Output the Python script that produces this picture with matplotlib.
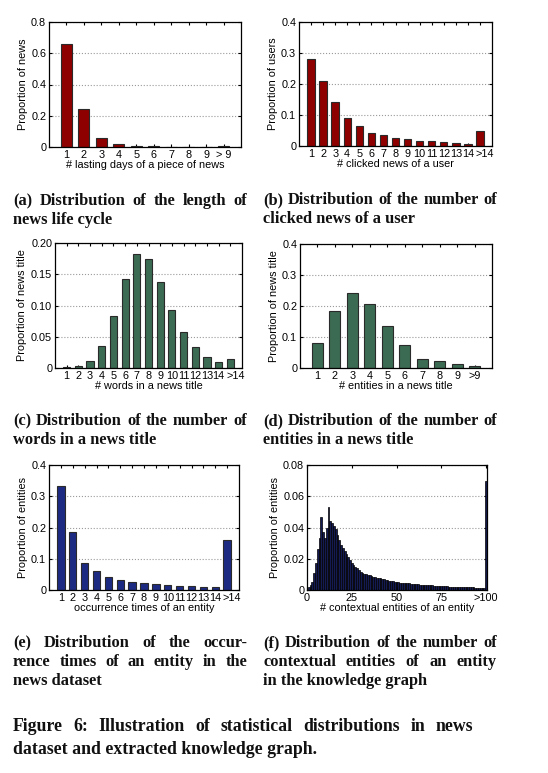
import numpy as np
import matplotlib
matplotlib.use('Agg')
import matplotlib.pyplot as plt
import matplotlib.transforms as mtransforms

W, H, DPI = 548, 773, 100

# (a) lasting days of a piece of news
days_labels = ['1', '2', '3', '4', '5', '6', '7', '8', '9', '> 9']
days_share = [0.658, 0.244, 0.060, 0.019, 0.009, 0.006, 0.003, 0.001, 0.001, 0.008]

# (b) clicked news of a user
click_labels = ['1', '2', '3', '4', '5', '6', '7', '8', '9', '10', '11', '12', '13', '14', '>14']
click_share = [0.281, 0.210, 0.141, 0.091, 0.063, 0.043, 0.034, 0.025, 0.021,
               0.017, 0.015, 0.014, 0.009, 0.008, 0.048]

# (c) words in a news title
word_labels = click_labels
word_share = [0.001, 0.003, 0.011, 0.036, 0.083, 0.143, 0.183, 0.175, 0.137,
              0.093, 0.057, 0.033, 0.018, 0.010, 0.014]

# (d) entities in a news title
ent_labels = ['1', '2', '3', '4', '5', '6', '7', '8', '9', '>9']
ent_share = [0.082, 0.185, 0.243, 0.208, 0.137, 0.074, 0.028, 0.023, 0.012, 0.005]

# (e) occurrence times of an entity
occ_labels = click_labels
occ_share = [0.332, 0.185, 0.086, 0.061, 0.041, 0.032, 0.026, 0.022, 0.018,
             0.016, 0.013, 0.012, 0.010, 0.010, 0.160]

# (f) contextual entities of an entity (1..99, then >100)
ctx_share = [0.002, 0.003, 0.005, 0.011, 0.017, 0.026, 0.033, 0.047, 0.037, 0.033,
             0.040, 0.053, 0.044, 0.043, 0.041, 0.039, 0.035, 0.032, 0.029, 0.027,
             0.025, 0.023, 0.021, 0.019, 0.017, 0.016, 0.015, 0.014, 0.0125, 0.0117,
             0.011, 0.0105, 0.010, 0.0098, 0.0095, 0.009, 0.0086, 0.0083, 0.008, 0.0078,
             0.0074, 0.0071, 0.0068, 0.0066, 0.0064, 0.006, 0.0058, 0.0056, 0.0054, 0.0052,
             0.005, 0.0048, 0.0047, 0.0046, 0.0045, 0.0044, 0.0042, 0.0041, 0.004, 0.0038,
             0.0037, 0.0036, 0.0035, 0.0034, 0.0033, 0.0032, 0.0031, 0.003, 0.003, 0.0029,
             0.0028, 0.0027, 0.0026, 0.0025, 0.0024, 0.0024, 0.0023, 0.0023, 0.0022, 0.0022,
             0.0021, 0.0021, 0.002, 0.002, 0.0019, 0.0019, 0.0019, 0.0018, 0.0018, 0.0018,
             0.0017, 0.0017, 0.0017, 0.0016, 0.0016, 0.0016, 0.0015, 0.0015, 0.0015,
             0.070]
ctx_ticks = ['0', '25', '50', '75', '>100']

plt.rcParams['font.family'] = ['Liberation Sans', 'DejaVu Sans']
plt.rcParams['font.size'] = 7

fig = plt.figure(figsize=(W / DPI, H / DPI), dpi=DPI)
fig.patch.set_facecolor('white')


def make_axes(l, t, r, b):
    return fig.add_axes([l / W, 1 - b / H, (r - l) / W, (b - t) / H])


def style(ax, yticks, ylabels, ylabel, xlabel):
    ax.set_yticks(yticks)
    ax.set_yticklabels(ylabels)
    ax.set_ylim(yticks[0], yticks[-1])
    ax.yaxis.grid(True, linestyle=':', color='#9a9a9a', linewidth=0.8)
    ax.set_axisbelow(True)
    ax.tick_params(direction='in', top=True, right=True, length=2.5, width=0.8,
                   pad=2, labelsize=7.8)
    for s in ax.spines.values():
        s.set_linewidth(0.9)
    ax.set_ylabel(ylabel, fontsize=7.8, labelpad=2.5)
    ax.set_xlabel(xlabel, fontsize=7.8, labelpad=0)


def bar_panel(box, labels, vals, color, yticks, ylabels, ylabel, xlabel):
    ax = make_axes(*box)
    x = np.arange(1, len(labels) + 1)
    ax.bar(x, vals, width=0.62, color=color, edgecolor='#2a2a2a', linewidth=0.8)
    ax.set_xticks(x)
    ax.set_xticklabels(labels)
    ax.set_xlim(0, len(labels) + 1)
    style(ax, yticks, ylabels, ylabel, xlabel)
    if len(labels) > 12:
        # the last label sits a little to the right in the original
        last = ax.get_xticklabels()[-1]
        last.set_transform(last.get_transform() +
                           mtransforms.ScaledTranslation(5 / DPI, 0, fig.dpi_scale_trans))
    return ax


RED = '#8e0000'
GREEN = '#3b6b52'
BLUE = '#1d2a82'
NAVY = '#141b52'

bar_panel((49, 22, 241, 147), days_labels, days_share, RED,
          [0, 0.2, 0.4, 0.6, 0.8], ['0', '0.2', '0.4', '0.6', '0.8'],
          'Proportion of news', '# lasting days of a piece of news')
bar_panel((299, 22, 492, 146), click_labels, click_share, RED,
          [0, 0.1, 0.2, 0.3, 0.4], ['0', '0.1', '0.2', '0.3', '0.4'],
          'Proportion of users', '# clicked news of a user')
bar_panel((55, 243, 242, 368), word_labels, word_share, GREEN,
          [0, 0.05, 0.10, 0.15, 0.20], ['0', '0.05', '0.10', '0.15', '0.20'],
          'Proportion of news title', '# words in a news title')
bar_panel((300, 244, 492, 368), ent_labels, ent_share, GREEN,
          [0, 0.1, 0.2, 0.3, 0.4], ['0', '0.1', '0.2', '0.3', '0.4'],
          'Proportion of news title', '# entities in a news title')
bar_panel((49, 465, 239, 590), occ_labels, occ_share, BLUE,
          [0, 0.1, 0.2, 0.3, 0.4], ['0', '0.1', '0.2', '0.3', '0.4'],
          'Proportion of entities', 'occurrence times of an entity')

axf = make_axes(307, 465, 487, 590)
xf = np.arange(1, len(ctx_share) + 1)
axf.bar(xf, ctx_share, width=1.0, color=NAVY, edgecolor='black', linewidth=0.5)
axf.set_xlim(0, len(ctx_share) + 0.5)
axf.set_xticks([0, 25, 50, 75, 100])
axf.set_xticklabels(ctx_ticks)
style(axf, [0, 0.02, 0.04, 0.06, 0.08], ['0', '0.02', '0.04', '0.06', '0.08'],
      'Proportion of entities', '# contextual entities of an entity')

# captions, justified like the paper layout
renderer = fig.canvas.get_renderer()
CAP = dict(family=['Liberation Serif', 'DejaVu Serif'], fontweight='bold',
           color='#111111', va='baseline')
SUB = 11.8
MAIN = 12.8


def put_line(text, x0, x1, y, size, justify=True):
    if not justify:
        fig.text(x0 / W, 1 - y / H, text, ha='left', fontsize=size, **CAP)
        return
    words = text.split()
    objs = [fig.text(0, 1 - y / H, w, ha='left', fontsize=size, **CAP) for w in words]
    widths = [o.get_window_extent(renderer).width for o in objs]
    gap = (x1 - x0 - sum(widths)) / (len(words) - 1)
    pos = x0
    for o, w in zip(objs, widths):
        o.set_x(pos / W)
        pos += w + gap


def caption(lines, x0, x1, y0, size=SUB, step=19.0):
    for i, ln in enumerate(lines):
        put_line(ln, x0, x1, y0 + i * step, size, justify=(i < len(lines) - 1))


caption(['(a) Distribution of the length of', 'news life cycle'], 13, 247, 205)
caption(['(b) Distribution of the number of', 'clicked news of a user'], 263, 497, 204)
caption(['(c) Distribution of the number of', 'words in a news title'], 13, 247, 425)
caption(['(d) Distribution of the number of', 'entities in a news title'], 263, 497, 425)
caption(['(e) Distribution of the occur-', 'rence times of an entity in the',
         'news dataset'], 13, 247, 647)
caption(['(f) Distribution of the number of', 'contextual entities of an entity',
         'in the knowledge graph'], 263, 497, 647)
caption(['Figure 6: Illustration of statistical distributions in news',
         'dataset and extracted knowledge graph.'], 13, 473, 731, size=MAIN, step=22.5)

fig.savefig('out.png', dpi=DPI)
